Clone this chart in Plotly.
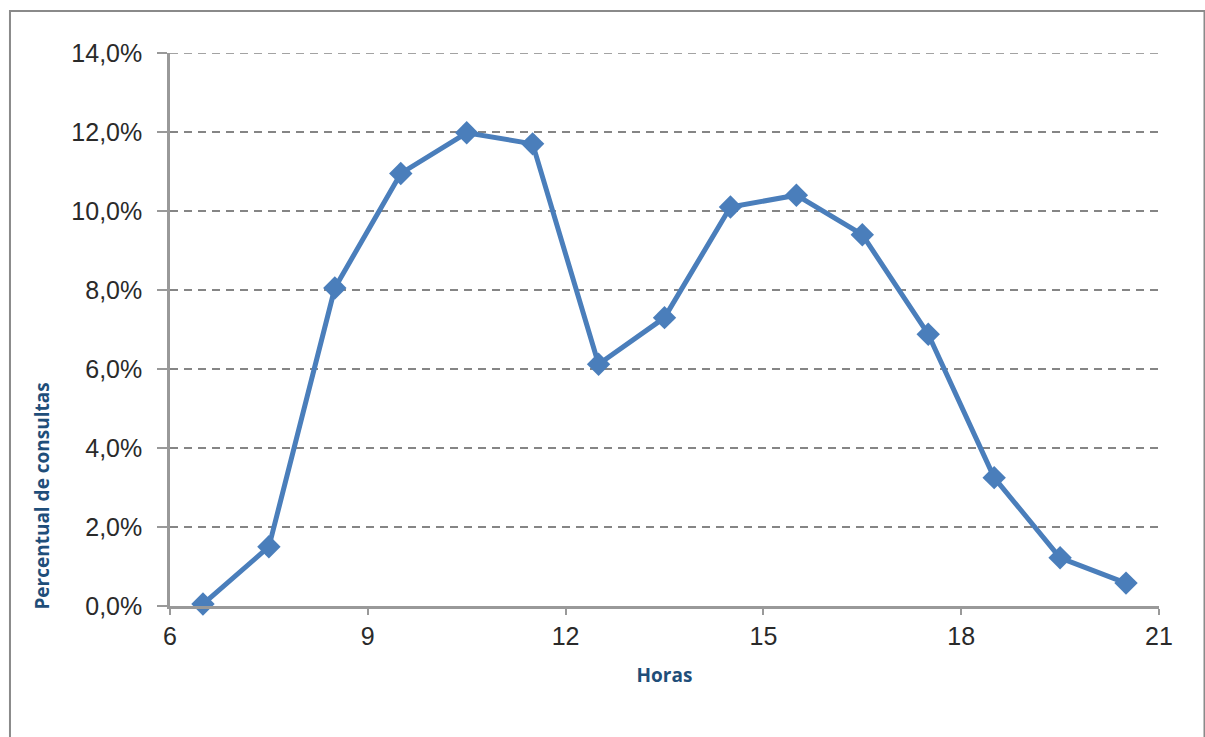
import plotly.graph_objects as go

# Hourly share of consultations (%)
horas = [6.5, 7.5, 8.5, 9.5, 10.5, 11.5, 12.5, 13.5, 14.5, 15.5, 16.5, 17.5, 18.5, 19.5, 20.5]
percentual = [0.05, 1.5, 8.05, 10.95, 11.98, 11.7, 6.12, 7.3, 10.1, 10.4, 9.4, 6.88, 3.25, 1.22, 0.58]

x_ticks = [6, 9, 12, 15, 18, 21]
y_ticks = [0, 2, 4, 6, 8, 10, 12, 14]
y_labels = [f"{v:.1f}%".replace(".", ",") for v in y_ticks]

LINE_BLUE = "#4A7EBB"
TITLE_BLUE = "#1F4E79"
GRID = "#858585"
GRID_DASH = "8px,6px"
TICK_FONT = dict(family="Liberation Sans, Arial, sans-serif", size=25, color="#2a2a2a")
TITLE_FONT = "Open Sans, Lato, sans-serif"

fig = go.Figure()
fig.add_trace(go.Scatter(
    x=horas, y=percentual,
    mode="lines+markers",
    line=dict(color=LINE_BLUE, width=5),
    marker=dict(symbol="diamond", size=18, color=LINE_BLUE),
    showlegend=False,
    cliponaxis=False,
))

fig.update_layout(
    width=1205, height=737,
    margin=dict(l=170, r=46, t=53, b=131),
    paper_bgcolor="white",
    plot_bgcolor="white",
    xaxis=dict(
        range=[6, 21],
        tickvals=x_ticks,
        tickfont=TICK_FONT,
        ticks="outside", ticklen=6, tickcolor="#999999", tickwidth=1.5,
        showline=True, linecolor="#999999", linewidth=2.5,
        showgrid=False, zeroline=False,
        title=dict(text="<b>Horas</b>", font=dict(family=TITLE_FONT, size=19, color=TITLE_BLUE), standoff=20),
    ),
    yaxis=dict(
        range=[0, 14],
        tickvals=y_ticks,
        ticktext=y_labels,
        tickfont=TICK_FONT,
        ticklabelstandoff=10,
        ticks="outside", ticklen=10, tickcolor="#999999", tickwidth=1.5,
        showline=True, linecolor="#999999", linewidth=2.5,
        showgrid=True, gridcolor=GRID, griddash=GRID_DASH, gridwidth=1.5,
        zeroline=False,
    ),
    annotations=[
        # y-axis title, sitting low along the axis
        dict(text="<b>Percentual de consultas</b>", textangle=-90,
             xref="paper", yref="paper", x=-0.1294, y=-0.011,
             xanchor="center", yanchor="bottom", showarrow=False,
             font=dict(family=TITLE_FONT, size=19, color=TITLE_BLUE)),
    ],
    shapes=[
        # outer frame
        dict(type="rect", xref="paper", yref="paper",
             x0=-0.1618, x1=1.046, y0=-0.4, y1=1.076,
             line=dict(color="#8a8a8a", width=2), layer="below"),
        # top gridline at the upper edge of the range
        dict(type="line", xref="paper", yref="y",
             x0=0, x1=1.003, y0=y_ticks[-1], y1=y_ticks[-1],
             line=dict(color=GRID, width=1.5, dash=GRID_DASH), layer="above"),
    ],
)

fig.write_html("out.html")
